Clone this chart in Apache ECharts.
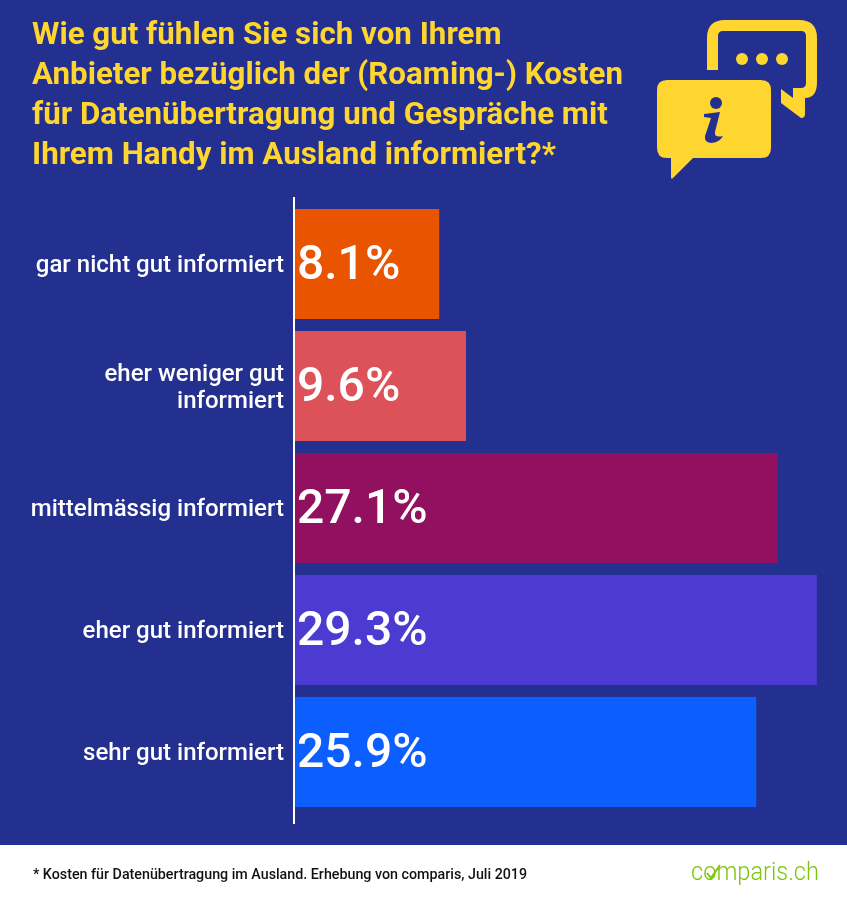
<!DOCTYPE html>
<html>
<head>
<meta charset="utf-8">
<style>
  html, body { margin: 0; padding: 0; background: #24308f; }
  #chart { width: 847px; height: 900px; }
</style>
<script src="https://cdn.jsdelivr.net/npm/echarts@6/dist/echarts.min.js"></script>
</head>
<body>
<div id="chart"></div>
<script>
const BLUE = '#24308f';
const YELLOW = '#ffd52f';
const GREEN = '#7cc70e';

const rows = [
  { name: 'gar nicht gut informiert', value: 8.1, color: '#e85400' },
  { name: 'eher weniger gut\ninformiert', value: 9.6, color: '#dc5258' },
  { name: 'mittelmässig informiert', value: 27.1, color: '#921060' },
  { name: 'eher gut informiert', value: 29.3, color: '#4c3bd0' },
  { name: 'sehr gut informiert', value: 25.9, color: '#0c5eff' }
];

// the graphic component has no plain path type, so the icon shapes get registered
const shapes = {
  bubbleOutline: 'M707 70L707 38Q707 20 725 20L799 20Q817 20 817 38L817 82Q817 98 805 98L805 114Q805 118 801 118L781 103L781 89L793 98L793 88L801 88Q806 88 806 83L806 36Q806 31 801 31L723 31Q718 31 718 36L718 70Z',
  bubbleFilled: 'M667 80L761 80Q771 80 771 90L771 148Q771 158 761 158L693 158L673 178Q671 180 671 177L671 158L667 158Q657 158 657 148L657 90Q657 80 667 80Z',
  infoStem: 'M704 114L720 112L715 132Q714 138 723 136Q719 143 711 143Q704 142 705 136L711 118L704 117Z'
};
Object.keys(shapes).forEach(k => {
  echarts.graphic.registerShape(k, echarts.graphic.extendPath(shapes[k], {}));
});

const chart = echarts.init(document.getElementById('chart'));

chart.setOption({
  backgroundColor: BLUE,
  animation: false,
  textStyle: { fontFamily: 'Roboto' },
  title: {
    text: 'Wie gut fühlen Sie sich von Ihrem\nAnbieter bezüglich der (Roaming-) Kosten\nfür Datenübertragung und Gespräche mit\nIhrem Handy im Ausland informiert?*',
    left: 27,
    top: 11,
    textStyle: { color: YELLOW, fontFamily: 'Roboto', fontWeight: 700, fontSize: 31.3, lineHeight: 40 }
  },
  // second grid only carries the category labels, they sit 2px below the bar centres
  grid: [
    { left: 295, top: 203, width: 534.3, height: 610 },
    { left: 295, top: 205, width: 534.3, height: 610 }
  ],
  xAxis: [
    { type: 'value', min: 0, max: 30, show: false },
    { type: 'value', min: 0, max: 30, show: false, gridIndex: 1 }
  ],
  yAxis: [
    { type: 'category', inverse: true, data: rows.map(r => r.name), show: false },
    {
      type: 'category',
      gridIndex: 1,
      inverse: true,
      data: rows.map(r => r.name),
      axisLine: { show: false },
      axisTick: { show: false },
      axisLabel: { color: '#fff', fontFamily: 'Roboto', fontWeight: 500, fontSize: 24, lineHeight: 27, margin: 11, align: 'right' }
    }
  ],
  series: [{
    type: 'bar',
    barWidth: 110,
    data: rows.map(r => ({ value: r.value, itemStyle: { color: r.color } })),
    label: {
      show: true,
      position: 'insideLeft',
      distance: 2,
      offset: [0, 3],
      color: '#fff',
      fontFamily: 'Roboto',
      fontWeight: 500,
      fontSize: 48,
      formatter: p => p.value.toFixed(1) + '%'
    }
  }],
  graphic: [
    // axis line sticks out past the grid
    { type: 'rect', shape: { x: 293, y: 197, width: 2, height: 627 }, style: { fill: '#fff' }, z: 10 },
    // footer
    { type: 'rect', shape: { x: 0, y: 845, width: 847, height: 55 }, style: { fill: '#fff' }, z: 1 },
    { type: 'text', x: 33, y: 875, z: 2, style: { text: '* Kosten für Datenübertragung im Ausland. Erhebung von comparis, Juli 2019', fill: '#111', font: '500 14.27px Roboto', verticalAlign: 'middle' } },
    // logo is a condensed face, roboto squeezed to the same width
    { type: 'text', x: 691, y: 873, scaleX: 0.89, z: 2, style: { text: 'comparis.ch', fill: GREEN, font: '300 26.5px Roboto', verticalAlign: 'middle' } },
    { type: 'polyline', z: 3, shape: { points: [[707, 873], [711, 878], [720, 865]] }, style: { stroke: GREEN, lineWidth: 2, fill: 'none' } },
    // icon
    { type: 'bubbleOutline', z: 3, style: { fill: YELLOW } },
    { type: 'circle', z: 3, shape: { cx: 742, cy: 59, r: 6 }, style: { fill: YELLOW } },
    { type: 'circle', z: 3, shape: { cx: 762, cy: 59, r: 6 }, style: { fill: YELLOW } },
    { type: 'circle', z: 3, shape: { cx: 782, cy: 59, r: 6 }, style: { fill: YELLOW } },
    { type: 'bubbleFilled', z: 3, style: { fill: YELLOW } },
    { type: 'circle', z: 4, shape: { cx: 716, cy: 103, r: 6 }, style: { fill: BLUE } },
    { type: 'infoStem', z: 4, style: { fill: BLUE } }
  ]
});
</script>
</body>
</html>
